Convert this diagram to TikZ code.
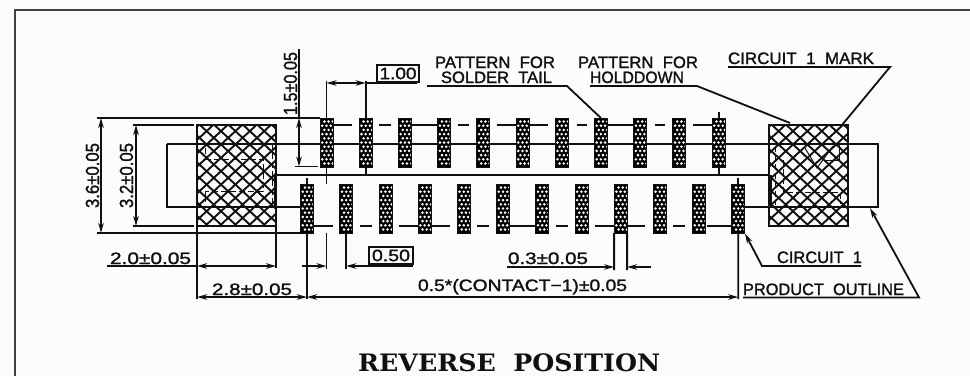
\documentclass[tikz,border=0pt]{standalone}
\usepackage{fontspec}
\usepackage{graphicx}
\usetikzlibrary{arrows.meta,calc}
\newfontfamily\cadfont[FakeBold=1.4]{Liberation Sans}
\newfontfamily\titlefont{DejaVu Serif}
\definecolor{paper}{HTML}{FCFCFC}
\definecolor{ink}{HTML}{101010}
\newcommand{\fw}[2]{\resizebox{#1pt}{\height}{#2}}
\tikzset{
  x=1pt,y=-1pt,
  >={Stealth[length=10pt,width=5.5pt]},
  ln/.style={line width=1.8pt,draw=ink},
  lab/.style={inner sep=0pt,outer sep=0pt,anchor=base west,text=ink,font=\cadfont\fontsize{16.5}{16.5}\selectfont},
  rlab/.style={inner sep=0pt,outer sep=0pt,anchor=base west,rotate=90,text=ink,font=\cadfont\fontsize{19}{19}\selectfont},
  valbox/.style={draw=ink,line width=1.6pt,inner sep=0pt,outer sep=0pt,minimum height=17pt,text=ink,font=\cadfont\fontsize{16.5}{16.5}\selectfont},
  padbox/.style={draw=ink,fill=black,line width=0.8pt,inner sep=0pt,outer sep=0pt,minimum width=13pt,minimum height=49pt,
    path picture={
      \foreach \r in {-5,...,5}{
        \pgfmathsetmacro{\off}{mod(abs(\r),2)==0 ? 0 : 2.1}
        \foreach \c in {-1,0,1}{
          \fill[white] ($(path picture bounding box.center)+(\c*4.2+\off,\r*4.2)$) circle (1.4pt);
        }
      }
    }},
  holdbox/.style={draw=ink,line width=2pt,inner sep=0pt,outer sep=0pt,minimum width=79pt,minimum height=101pt,
    path picture={
      \foreach \k in {-8,...,7}{
        \draw[line width=1.9pt,ink] ($(path picture bounding box.north west)+(\k*14.4+3,0)$) -- ++(110,102);
        \draw[line width=1.9pt,ink] ($(path picture bounding box.north west)+(\k*14.4+117,0)$) -- ++(-110,102);
      }
    }},
  frameline/.style={line width=2pt,draw=black!75},
  inner dash/.style={line width=1pt,draw=ink,dash pattern=on 6pt off 3pt},
}
\begin{document}
\begin{tikzpicture}
\useasboundingbox (0,0) rectangle (970,376);
\fill[paper] (0,0) rectangle (970,376);
% frame
\coordinate (fa) at (15,376);
\coordinate (fb) at (15,9.5);
\coordinate (fc) at (970,9.5);
\draw[frameline] (fa) -- (fb) -- (fc);

% product outline
\coordinate (ol) at (167,144);
\coordinate (or) at (878,144);
\coordinate (bl) at (167,207);
\coordinate (br) at (878,207);
\draw[ln,line width=2.1pt] (ol) -- (or) -- (br) -- (745,207);
\draw[ln,line width=2.1pt] (ol) -- (bl) -- (300,207);
\draw[ln,line width=2.1pt] (276,175) -- (769,175);

% holddowns
\node[holdbox] (hl) at (236.5,175.5) {};
\node[holdbox] (hr) at (808.5,175.5) {};
\draw[ln,line width=3pt] (275,175) -- (275,207);
\draw[ln,line width=3pt] (770,175) -- (770,207);
% hidden details, left
\draw[inner dash] (205,159) -- (263,159) -- (263,191) -- (205,191);
\draw[inner dash] (272,144) -- (272,207);
\draw[inner dash] (205,148) -- (205,159);
\draw[inner dash] (205,191) -- (205,202);
% hidden details, right
\draw[inner dash] (775,146) -- (775,205);
\draw[inner dash] (783,160) -- (783,192) -- (840,192) -- (840,204);
\draw[line width=1pt,ink] (805,148) -- (817,168) -- (833,146);
\draw[line width=1pt,ink] (839,144) -- (839,160) -- (825,160);

% centre lines
\foreach \a/\b in {333/352,379/391,412/437,458/469,497/548,577/587,608/633,655/665,693/712}
  \draw[ln] (\a,125) -- (\b,125);
\foreach \a/\b in {313/333,360/372,399/450,477/489,510/535,556/568,595/645,673/685,707/732}
  \draw[ln] (\a,226) -- (\b,226);

% stubs
\draw[ln] (365.7,167) -- (365.7,175);
\draw[ln] (719,112) -- (719,175);
\draw[ln] (307,178) -- (307,184);
\draw[ln] (738,178) -- (738,184);
\draw[ln] (326.5,167) -- (326.5,184);

% pads
\foreach \i in {0,...,10}{
  \pgfmathsetmacro{\px}{326.5+39.2*\i}
  \node[padbox] (t\i) at (\px,142.5) {};
}
\foreach \i in {0,...,11}{
  \pgfmathsetmacro{\px}{307+39.2*\i}
  \node[padbox] (b\i) at (\px,208.5) {};
}

% extension lines
\draw[ln] (97,118) -- (t0.north west);
\draw[ln] (97,233) -- (b0.south west);
\draw[ln] (133,125) -- (194,125);
\draw[ln] (133,226) -- (194,226);
\draw[ln] (295,166.5) -- (318,166.5);
\draw[ln] (t0.north) -- (326.5,81);
\draw[ln] (t1.north) -- (365.7,81);
\draw[ln] (hl.south west) -- (197,299);
\draw[ln] (hl.south east) -- (276,268);
\draw[ln] (b0.south) -- (307,299);
\draw[ln] (326.5,233) -- (326.5,269);
\draw[ln] (b1.south) -- (346.2,269);
\draw[ln] (b8.south west) -- (614.1,270);
\draw[ln] (b8.south east) -- (627.1,270);
\draw[ln] (b11.south) -- (738.2,299);

% dimensions
\draw[ln,<->] (101,118) -- (101,233);
\draw[ln,<->] (136,125) -- (136,226);
\draw[ln] (299,49) -- (299,118);
\draw[ln,<->] (299,118) -- (299,166.5);
\draw[ln,<->] (326.5,83) -- (365.7,83);
\draw[ln] (365.7,83) -- (417,83);
\draw[ln] (107,266) -- (197,266);
\draw[ln,<->] (197,266) -- (276,266);
\draw[ln,<->] (197,297) -- (307,297);
\draw[ln,<->] (307,297) -- (738.2,297);
\draw[ln,->] (302,266) -- (326.5,266);
\draw[ln,->] (413,266) -- (346.2,266);
\draw[ln,->] (507,267) -- (614.1,267);
\draw[ln,->] (651,267) -- (627.1,267);

% rotated labels
\node[rlab] (d36) at (99,208) {\fw{65}{3.6±0.05}};
\node[rlab] (d32) at (133,208) {\fw{65}{3.2±0.05}};
\node[rlab] (d15) at (297,115) {\fw{63}{1.5±0.05}};

% dimension labels
\node[valbox,minimum width=42pt] (v100) at (398,73.5) {\fw{37}{1.00}};
\node[valbox,minimum width=44pt] (v050) at (391,255.5) {\fw{38}{0.50}};
\node[lab] (d20) at (110,264) {\fw{81}{2.0±0.05}};
\node[lab] (d28) at (212,295) {\fw{80}{2.8±0.05}};
\node[lab] (d03) at (508,264) {\fw{80}{0.3±0.05}};
\node[lab] (dc) at (418,291) {\fw{209}{0.5*(CONTACT−1)±0.05}};

% callouts
\node[lab] (p1a) at (435,68) {\fw{120}{PATTERN\ \ FOR}};
\node[lab] (p1b) at (441,83) {\fw{111}{SOLDER\ \ TAIL}};
\node[lab] (p2a) at (578,68) {\fw{120}{PATTERN\ \ FOR}};
\node[lab] (p2b) at (590,83) {\fw{94}{HOLDDOWN}};
\node[lab] (cm) at (728,64) {\fw{146}{CIRCUIT\ \ 1\ \ MARK}};
\node[lab] (c1) at (777,263) {\fw{85}{CIRCUIT\ \ 1}};
\node[lab] (po) at (743,295) {\fw{161}{PRODUCT\ \ OUTLINE}};

\draw[ln] (427,86) -- (567,86) -- (t7.north);
\draw[ln] (590,86) -- (697,86) -- (790,123);
\draw[ln] (728,67) -- (890,67) -- (842,125);
\draw[ln,->] (861,266) -- (762,266) -- (745,233.5);
\draw[ln,->] (743,297.5) -- (919,297.5) -- (870,208);

% title
\node[inner sep=0pt,anchor=base west,text=ink,font=\titlefont\bfseries\fontsize{24}{24}\selectfont] (title) at (358,371.5) {\fw{302}{REVERSE\ \ POSITION}};
\end{tikzpicture}
\end{document}
